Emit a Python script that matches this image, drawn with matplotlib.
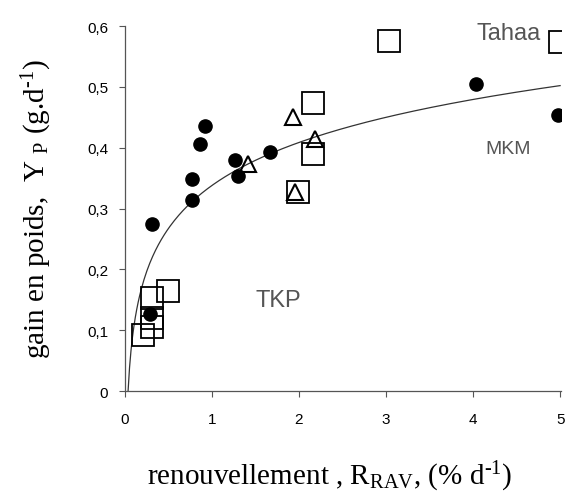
import numpy as np
import matplotlib
matplotlib.use('Agg')
import matplotlib.pyplot as plt

plt.rcParams['mathtext.fontset'] = 'custom'
plt.rcParams['mathtext.rm'] = 'Liberation Serif'
plt.rcParams['mathtext.it'] = 'Liberation Serif:italic'

# filled circles
circ_x = [0.31, 0.77, 0.77, 0.86, 0.92, 1.26, 1.30, 1.67, 4.03, 4.98, 0.29]
circ_y = [0.275, 0.314, 0.349, 0.406, 0.436, 0.380, 0.354, 0.393, 0.505, 0.454, 0.127]

# open triangles
tri_x = [1.41, 1.93, 2.18, 1.95]
tri_y = [0.373, 0.450, 0.414, 0.327]

# open squares
sq_x = [2.16, 2.16, 1.99, 3.03, 5.00, 0.49, 0.31, 0.31, 0.31, 0.21]
sq_y = [0.474, 0.390, 0.327, 0.576, 0.574, 0.164, 0.153, 0.120, 0.105, 0.092]

# logarithmic fit  Y = a + b ln(x)
fit_a = 0.338
fit_b = 0.102

xticks = [0, 1, 2, 3, 4, 5]
yticks = [0, 0.1, 0.2, 0.3, 0.4, 0.5, 0.6]
ylabels = ['0', '0,1', '0,2', '0,3', '0,4', '0,5', '0,6']

fig = plt.figure(figsize=(5.73, 5.02), dpi=100)
ax = fig.add_axes([0.218, 0.219, 0.761, 0.727])

xf = np.linspace(np.exp(-fit_a / fit_b), 5, 300)
ax.plot(xf, fit_a + fit_b * np.log(xf), color='#333333', lw=0.9, zorder=2)

ax.plot(circ_x, circ_y, 'o', color='black', ms=9.5, zorder=3)
ax.plot(tri_x, tri_y, '^', mfc='none', mec='black', mew=1.5, ms=12, zorder=4)
ax.plot(sq_x, sq_y, 's', mfc='none', mec='black', mew=1.3, ms=16.5, zorder=5)

tfont = dict(family='Liberation Sans', color='#555555')
ax.text(4.41, 0.589, 'Tahaa', fontsize=17, ha='center', va='center', **tfont)
ax.text(4.40, 0.398, 'MKM', fontsize=14, ha='center', va='center', **tfont)
ax.text(1.76, 0.150, 'TKP', fontsize=17, ha='center', va='center', **tfont)

ax.set_xlim(0, 5.01)
ax.set_ylim(0, 0.6)
ax.set_xticks(xticks)
ax.set_xticklabels([str(t) for t in xticks], fontfamily='Liberation Sans', fontsize=11)
ax.set_yticks(yticks)
ax.set_yticklabels(ylabels, fontfamily='Liberation Sans', fontsize=11)
ax.tick_params(axis='both', direction='out', length=4, width=0.8, color='#555555')
ax.tick_params(axis='x', pad=11)
ax.tick_params(axis='y', pad=8)

for s in ['top', 'right']:
    ax.spines[s].set_visible(False)
for s in ['left', 'bottom']:
    ax.spines[s].set_color('#555555')
    ax.spines[s].set_linewidth(0.9)

ax.set_xlabel(r'renouvellement , R$_{\rm RAV}$, (% d$^{\text{-1}}$)',
              fontfamily='Liberation Serif', fontsize=21, labelpad=22)
ax.xaxis.set_label_coords(0.47, -0.185)
ax.set_ylabel(r'gain en poids,  Y $_{\rm P}$ (g.d$^{\text{-1}}$)',
              fontfamily='Liberation Serif', fontsize=21, labelpad=24)

fig.savefig('out.png', dpi=100)
